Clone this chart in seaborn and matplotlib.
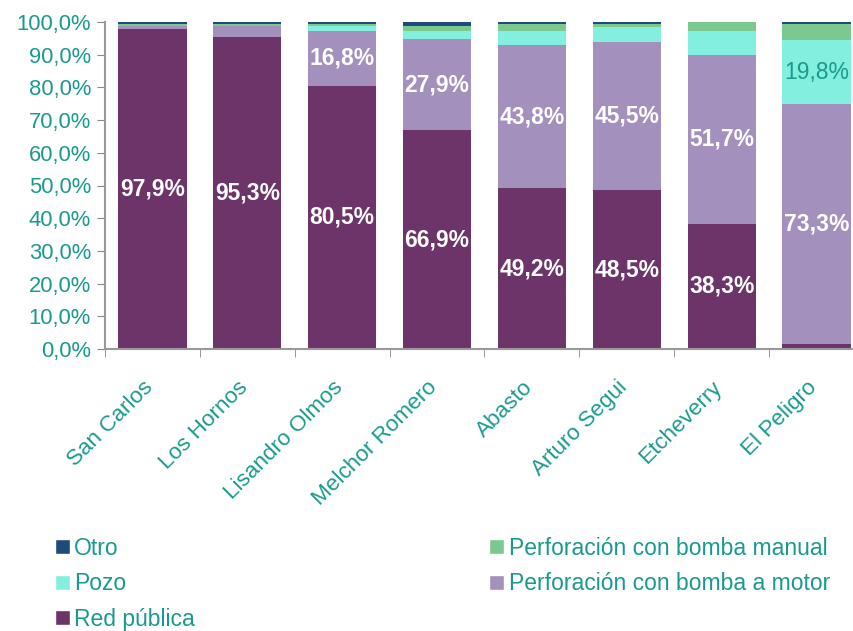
import matplotlib
matplotlib.use("Agg")
import matplotlib.pyplot as plt
import matplotlib.transforms as mtransforms
import seaborn as sns
import numpy as np
import pandas as pd
from matplotlib.patches import Patch

categories = ["San Carlos", "Los Hornos", "Lisandro Olmos", "Melchor Romero",
              "Abasto", "Arturo Segui", "Etcheverry", "El Peligro"]
red_publica = [97.9, 95.3, 80.5, 66.9, 49.2, 48.5, 38.3, 1.5]
bomba_motor = [1.0, 3.5, 16.8, 27.9, 43.8, 45.5, 51.7, 73.3]
pozo = [0.0, 0.0, 1.5, 2.5, 4.3, 4.5, 7.2, 19.8]
bomba_manual = [0.5, 0.6, 0.6, 1.5, 2.1, 0.9, 2.8, 4.8]
otro = [0.6, 0.6, 0.6, 1.2, 0.6, 0.6, 0.0, 0.6]

series_names = ["Red pública", "Perforación con bomba a motor", "Pozo",
                "Perforación con bomba manual", "Otro"]
series_vals = [red_publica, bomba_motor, pozo, bomba_manual, otro]
colors = ["#6C3469", "#A390BD", "#83EFDF", "#7BC98F", "#1F4A7C"]
teal = "#1A9A8E"

sns.set_style("white")
plt.rcParams["font.family"] = ["Liberation Sans", "DejaVu Sans"]

fig = plt.figure(figsize=(8.54, 6.31), dpi=100)
ax = fig.add_axes([105/854, 1-349/631, (864-105)/854, (349-22)/631])

data = np.array(series_vals)
cum = np.cumsum(data, axis=0)

# draw from top layer to bottom
for i in range(len(series_names)-1, -1, -1):
    df = pd.DataFrame({"cat": categories, "val": cum[i]})
    sns.barplot(data=df, x="cat", y="val", color=colors[i], width=0.72,
                saturation=1, ax=ax, linewidth=0, errorbar=None)

lab_fs = 16.5
for j in range(len(categories)):
    if red_publica[j] > 10:
        ax.text(j, red_publica[j]/2, f"{red_publica[j]:.1f}%".replace(".", ","),
                ha="center", va="center", color="white", fontsize=lab_fs, fontweight="bold")
    if bomba_motor[j] > 10:
        ax.text(j, red_publica[j] + bomba_motor[j]/2, f"{bomba_motor[j]:.1f}%".replace(".", ","),
                ha="center", va="center", color="white", fontsize=lab_fs, fontweight="bold")
    if pozo[j] > 10:
        ax.text(j, cum[1][j] + pozo[j]/2, f"{pozo[j]:.1f}%".replace(".", ","),
                ha="center", va="center", color=teal, fontsize=lab_fs)

ax.set_ylim(0, 100)
ax.set_xlim(-0.5, len(categories)-0.5)
yt = np.arange(0, 101, 10)
ax.set_yticks(yt)
ax.set_yticklabels([f"{v:.1f}%".replace(".", ",") for v in yt], color=teal, fontsize=15.8)
ax.set_xticks(range(len(categories)))
ax.set_xticklabels(categories, rotation=45, ha="right", rotation_mode="anchor",
                   color=teal, fontsize=16.2)
ax.set_xlabel("")
ax.set_ylabel("")
ax.tick_params(axis="x", length=0, pad=10)
ax.tick_params(axis="y", length=6, color="#888888", direction="out", left=True, pad=4)
ax.set_xticks(np.arange(-0.5, len(categories), 1), minor=True)
ax.tick_params(axis="x", which="minor", length=6, color="#888888", bottom=True)
offset = mtransforms.ScaledTranslation(-10/100, -14/100, fig.dpi_scale_trans)
for lbl in ax.get_xticklabels():
    lbl.set_transform(lbl.get_transform() + offset)
for s in ["top", "right"]:
    ax.spines[s].set_visible(False)
for s in ["left", "bottom"]:
    ax.spines[s].set_color("#999999")
    ax.spines[s].set_linewidth(1.5)

handles = [Patch(facecolor=colors[4]), Patch(facecolor=colors[2]), Patch(facecolor=colors[0]),
           Patch(facecolor=colors[3]), Patch(facecolor=colors[1])]
labels = ["Otro", "Pozo", "Red pública", "Perforación con bomba manual",
          "Perforación con bomba a motor"]
leg = fig.legend(handles, labels, ncol=2, loc="upper left",
                 bbox_to_anchor=(34/854, 1-516/631), frameon=False,
                 fontsize=16.5, handlelength=0.65, handleheight=0.65,
                 handletextpad=0.2, labelspacing=0.55, columnspacing=12.85,
                 labelcolor=teal)

fig.savefig("out.png", dpi=100)
